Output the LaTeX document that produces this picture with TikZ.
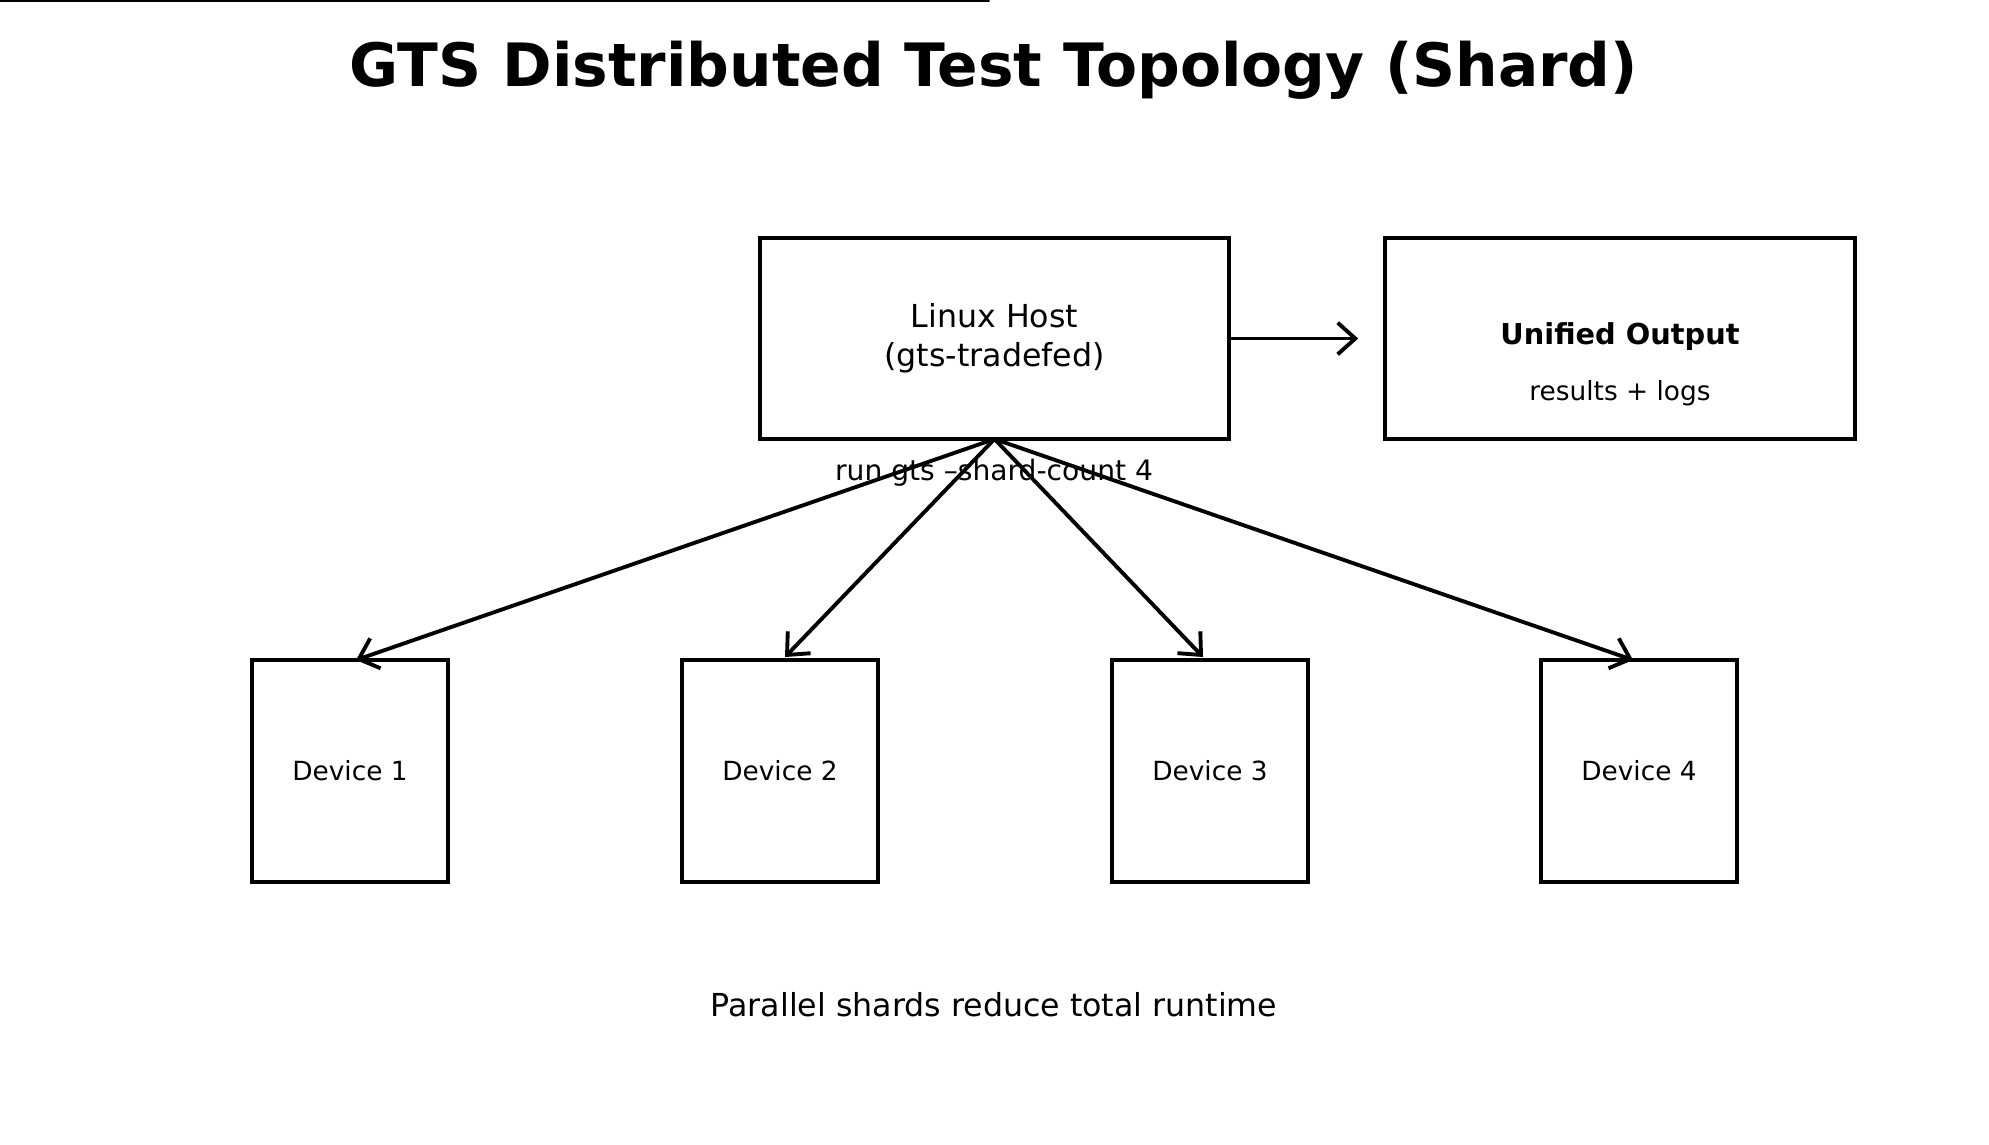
\documentclass[tikz,border=0pt]{standalone}
\usepackage{fontspec}
\setmainfont{DejaVu Sans}
\usetikzlibrary{arrows.meta}
\begin{document}
\begin{tikzpicture}[x=0.01cm,y=-0.01cm,
  box/.style={draw,line width=1.2pt,inner sep=0pt},
  arr/.style={line width=1.1pt,-{Straight Barb[length=5pt,width=9pt]}}]
\useasboundingbox (0,0) rectangle (1989,1144);
\node[font=\bfseries\fontsize{17}{20}\selectfont] (title) at (994,70) {GTS Distributed Test Topology (Shard)};
\node[box,minimum width=469\pgflinewidth,minimum height=0] (dummy) at (0,0) {};
\draw[box] (760,238) rectangle (1229,439) node[pos=.5,draw=none] (hostc) {};
\node[box,minimum width=4.69cm,minimum height=2.01cm,align=center,font=\fontsize{9}{11}\selectfont] (host) at (994.5,338.5) {Linux Host\\(gts-tradefed)};
\node[box,minimum width=4.70cm,minimum height=2.01cm] (out) at (1620,338.5) {};
\node[font=\bfseries\fontsize{8.2}{10}\selectfont] (outt) at (1620,337) {Unified Output};
\node[font=\fontsize{7.5}{9}\selectfont] (outs) at (1620,393) {results + logs};
\foreach \i/\x in {1/350,2/780,3/1210,4/1639}{
  \node[box,minimum width=1.96cm,minimum height=2.22cm,font=\fontsize{7.5}{9}\selectfont] (d\i) at (\x,771) {Device \i};
}
\coordinate (hb) at (994.5,439);
\coordinate (t1) at (356,660);
\coordinate (t2) at (785,657);
\coordinate (t3) at (1203,657);
\coordinate (t4) at (1633,660);
\foreach \i in {1,...,4}{\draw[arr] (hb) -- (t\i);}
\draw[arr] (host.east) -- ([xshift=-7]out.west);
\node[font=\fontsize{8}{10}\selectfont] (lbl) at (994,473) {run gts --shard-count 4};
\node[font=\fontsize{9}{11}\selectfont] (foot) at (994,1005) {Parallel shards reduce total runtime};
\end{tikzpicture}
\end{document}
